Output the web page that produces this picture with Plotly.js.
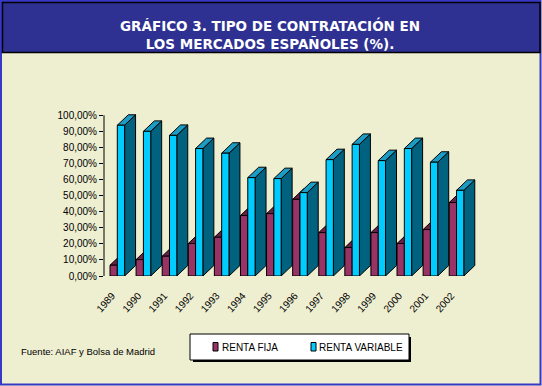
<!DOCTYPE html>
<html>
<head>
<meta charset="utf-8">
<script src="https://cdn.plot.ly/plotly-3.0.1.min.js"></script>
<style>html,body{margin:0;padding:0;background:#EEEED0;}#chart{width:542px;height:386px;}</style>
</head>
<body>
<div id="chart"></div>
<script>
// ---- data ----
const years = ['1989','1990','1991','1992','1993','1994','1995','1996','1997','1998','1999','2000','2001','2002'];
const rentaFija = [6.7, 10.2, 12.3, 20.2, 24.1, 37.6, 38.8, 47.7, 27.0, 17.7, 27.0, 20.2, 28.9, 45.7];
const rentaVariable = [93.8, 90.0, 87.5, 79.3, 76.4, 61.2, 60.6, 51.9, 72.4, 81.9, 71.8, 79.3, 70.8, 53.3];
const seriesNames = ['RENTA FIJA', 'RENTA VARIABLE'];
const yTickVals = [0, 10, 20, 30, 40, 50, 60, 70, 80, 90, 100];
const yTickText = ['0,00%', '10,00%', '20,00%', '30,00%', '40,00%', '50,00%', '60,00%', '70,00%', '80,00%', '90,00%', '100,00%'];
const titleText = 'GRÁFICO 3. TIPO DE CONTRATACIÓN EN<br>LOS MERCADOS ESPAÑOLES (%).';
const sourceText = 'Fuente: AIAF y Bolsa de Madrid';

// ---- geometry / style ----
const W = 542, H = 386;
const M = {l: 104, r: 62, t: 100, b: 110};
const PW = W - M.l - M.r, PH = H - M.t - M.b;
const BW = 0.28, DX = 0.42, DY = 6.5;
const XR = [-0.51, 13.9], YR = [0, 109.5];
const FONT = 'Liberation Sans, Arial, sans-serif';
const colors = {
  fija: {front: '#993366', top: '#6E1F48', side: '#5A1A3C'},
  vari: {front: '#00CCFF', top: '#1A9CC4', side: '#00627E'}
};

function faces(values, off) {
  const f = {front: {x: [], y: []}, side: {x: [], y: []}, top: {x: [], y: []}};
  values.forEach((v, i) => {
    const x0 = i + off, x1 = x0 + BW;
    const push = (o, xs, ys) => { o.x.push(...xs, null); o.y.push(...ys, null); };
    push(f.front, [x0, x1, x1, x0, x0], [0, 0, v, v, 0]);
    push(f.side, [x1, x1 + DX, x1 + DX, x1, x1], [0, DY, v + DY, v, 0]);
    push(f.top, [x0, x1, x1 + DX, x0 + DX, x0], [v, v, v + DY, v + DY, v]);
  });
  return f;
}
function poly(d, color) {
  return {type: 'scatter', mode: 'lines', x: d.x, y: d.y, fill: 'toself', fillcolor: color,
    line: {color: '#000', width: 1}, hoverinfo: 'skip', showlegend: false};
}
const fF = faces(rentaFija, -BW), fV = faces(rentaVariable, 0);
const traces = [
  poly(fF.side, colors.fija.side), poly(fF.top, colors.fija.top), poly(fF.front, colors.fija.front),
  poly(fV.side, colors.vari.side), poly(fV.top, colors.vari.top), poly(fV.front, colors.vari.front)
];

const px = p => (p - M.l) / PW;
const py = p => (H - M.b - p) / PH;
function rect(x0, y0, x1, y1, fill, line, lw) {
  return {type: 'rect', xref: 'paper', yref: 'paper', x0: px(x0), x1: px(x1), y0: py(y1), y1: py(y0),
    fillcolor: fill, line: {color: line, width: lw}, layer: 'below'};
}
const shapes = [
  rect(1, 1, 540.5, 384.5, 'rgba(0,0,0,0)', '#3838C8', 2),
  rect(2.5, 2.5, 540, 52.5, '#2E3192', '#000', 1.5),
  rect(193, 337, 411, 362, '#000', '#000', 0),
  rect(190, 334, 409, 360, '#FFFFFF', '#000', 1),
  rect(213, 342.5, 218, 351, colors.fija.front, '#000', 1),
  rect(311, 342.5, 316, 351, colors.vari.front, '#000', 1),
  {type: 'line', xref: 'paper', yref: 'y', x0: 0, x1: 0, y0: 0, y1: 100, line: {color: '#000', width: 1}}
];
const annotations = [
  {xref: 'paper', yref: 'paper', x: px(270), y: py(34), text: titleText, showarrow: false,
    xanchor: 'center', yanchor: 'middle', font: {family: 'DejaVu Sans', size: 13.5, weight: 'bold', color: '#FFFFFF'}},
  {xref: 'paper', yref: 'paper', x: px(19), y: py(351), text: sourceText, showarrow: false,
    xanchor: 'left', yanchor: 'middle', font: {family: FONT, size: 9.5, color: '#000'}},
  {xref: 'paper', yref: 'paper', x: px(220), y: py(347), text: seriesNames[0], showarrow: false,
    xanchor: 'left', yanchor: 'middle', font: {family: FONT, size: 10, color: '#000'}},
  {xref: 'paper', yref: 'paper', x: px(317), y: py(347), text: seriesNames[1], showarrow: false,
    xanchor: 'left', yanchor: 'middle', font: {family: FONT, size: 10, color: '#000'}}
];

const layout = {
  width: W, height: H, margin: M,
  paper_bgcolor: '#EEEED0', plot_bgcolor: 'rgba(0,0,0,0)',
  showlegend: false,
  xaxis: {range: XR, tickvals: years.map((_, i) => i - 0.2), ticktext: years, tickangle: -48,
    showgrid: false, zeroline: false, showline: false, ticks: '', ticklabelstandoff: 11,
    tickfont: {family: FONT, size: 10, color: '#000'}, fixedrange: true},
  yaxis: {range: YR, tickvals: yTickVals, ticktext: yTickText, showgrid: false, zeroline: false,
    showline: false, ticks: 'outside', ticklen: 4, tickcolor: '#000', tickwidth: 1,
    tickfont: {family: FONT, size: 10, color: '#000'}, fixedrange: true},
  shapes: shapes, annotations: annotations
};
Plotly.newPlot('chart', traces, layout, {displayModeBar: false, staticPlot: true});
</script>
</body>
</html>
